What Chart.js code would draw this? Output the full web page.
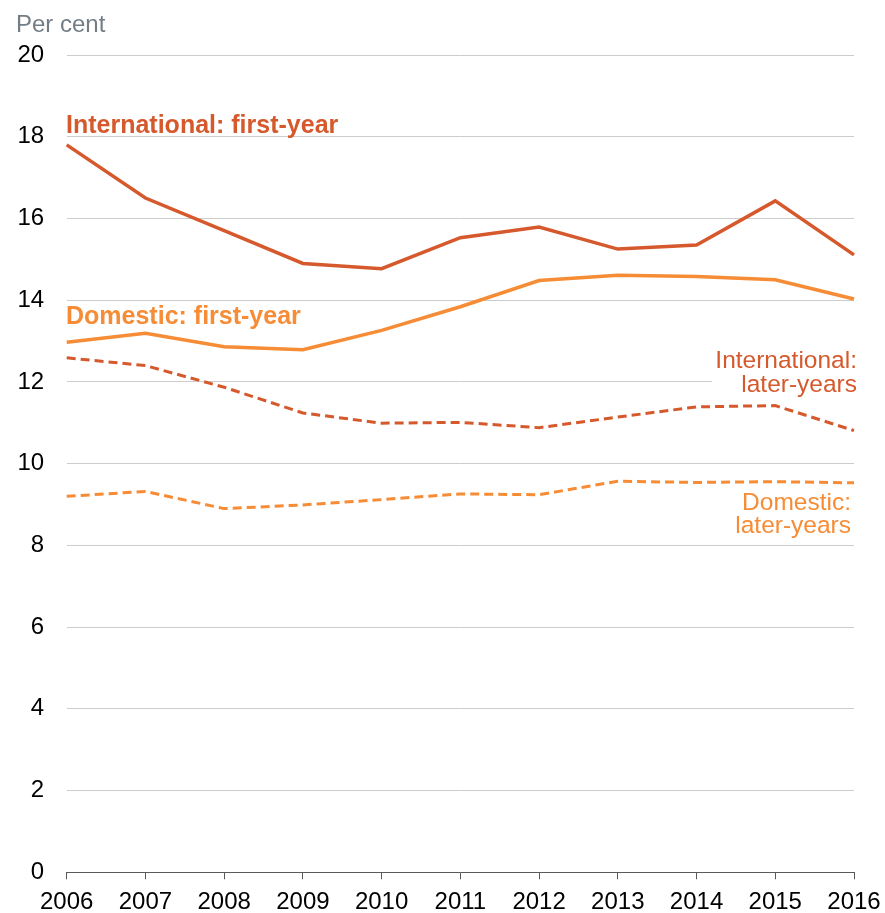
<!DOCTYPE html>
<html>
<head>
<meta charset="utf-8">
<script src="https://cdn.jsdelivr.net/npm/chart.js@4"></script>
<style>
  html, body { margin: 0; padding: 0; background: #fff; }
  #wrap { width: 885px; height: 913px; position: relative; }
</style>
</head>
<body>
<div id="wrap"><canvas id="chart"></canvas></div>
<script>
const years = ['2006', '2007', '2008', '2009', '2010', '2011', '2012', '2013', '2014', '2015', '2016'];
const intlFirst = [17.8, 16.5, 15.7, 14.9, 14.77, 15.53, 15.79, 15.25, 15.35, 16.43, 15.11];
const domFirst = [12.97, 13.19, 12.86, 12.79, 13.26, 13.84, 14.48, 14.61, 14.58, 14.5, 14.03];
const intlLater = [12.59, 12.4, 11.87, 11.24, 10.99, 11.01, 10.88, 11.14, 11.39, 11.42, 10.81];
const domLater = [9.2, 9.32, 8.9, 8.99, 9.12, 9.26, 9.24, 9.57, 9.54, 9.56, 9.53];

const darkOrange = '#d5592c';
const lightOrange = '#f68c35';
const fontFamily = '"Liberation Sans", Arial, sans-serif';

Chart.defaults.font.family = fontFamily;

// text labels drawn on the chart, after the grid but before the lines
const labelPlugin = {
  id: 'labels',
  beforeDatasetsDraw(chart) {
    const ctx = chart.ctx;
    ctx.save();
    ctx.textBaseline = 'alphabetic';

    ctx.fillStyle = '#737d86';
    ctx.font = '24px ' + fontFamily;
    ctx.textAlign = 'left';
    ctx.fillText('Per cent', 16, 31.5);

    ctx.font = 'bold 25px ' + fontFamily;
    ctx.fillStyle = darkOrange;
    ctx.fillText('International: first-year', 66, 132.5);
    ctx.fillStyle = lightOrange;
    ctx.fillText('Domestic: first-year', 66, 324);

    ctx.font = '24.5px ' + fontFamily;
    ctx.fillStyle = '#fff';
    ctx.fillRect(712, 345, 885 - 712, 56);
    ctx.textAlign = 'right';
    ctx.fillStyle = darkOrange;
    ctx.fillText('International:', 857, 367.5);
    ctx.fillText('later-years', 857, 391.5);
    ctx.fillStyle = lightOrange;
    ctx.fillText('Domestic:', 851, 510);
    ctx.fillText('later-years', 851, 532.5);
    ctx.restore();
  }
};

function lineSet(data, color, dashed) {
  return {
    data: data,
    borderColor: color,
    borderWidth: dashed ? 3 : 3.5,
    borderDash: dashed ? [9, 5] : [],
    pointRadius: 0,
    tension: 0,
    fill: false
  };
}

new Chart(document.getElementById('chart'), {
  type: 'line',
  data: {
    labels: years,
    datasets: [
      lineSet(domLater, lightOrange, true),
      lineSet(intlLater, darkOrange, true),
      lineSet(domFirst, lightOrange, false),
      lineSet(intlFirst, darkOrange, false)
    ]
  },
  options: {
    responsive: true,
    maintainAspectRatio: false,
    animation: false,
    layout: { padding: { top: 55, right: 31, left: 0, bottom: 0 } },
    plugins: {
      legend: { display: false },
      tooltip: { enabled: false }
    },
    scales: {
      x: {
        offset: false,
        grid: { drawOnChartArea: false, drawTicks: true, tickLength: 7, color: '#595959' },
        border: { display: true, color: '#595959', width: 1 },
        ticks: { color: '#000', font: { size: 24 }, padding: 9, maxRotation: 0, autoSkip: false },
        afterFit(scale) {
          scale.height = 40.7;
          scale.paddingLeft = 0;
          scale.paddingRight = 0;
        }
      },
      y: {
        min: 0,
        max: 20,
        grid: { color: '#cccccc', lineWidth: 1, drawTicks: false },
        border: { display: false },
        ticks: { stepSize: 2, color: '#000', font: { size: 24 }, padding: 22.5 },
        afterFit(scale) { scale.width = 66.7; }
      }
    }
  },
  plugins: [labelPlugin]
});
</script>
</body>
</html>
